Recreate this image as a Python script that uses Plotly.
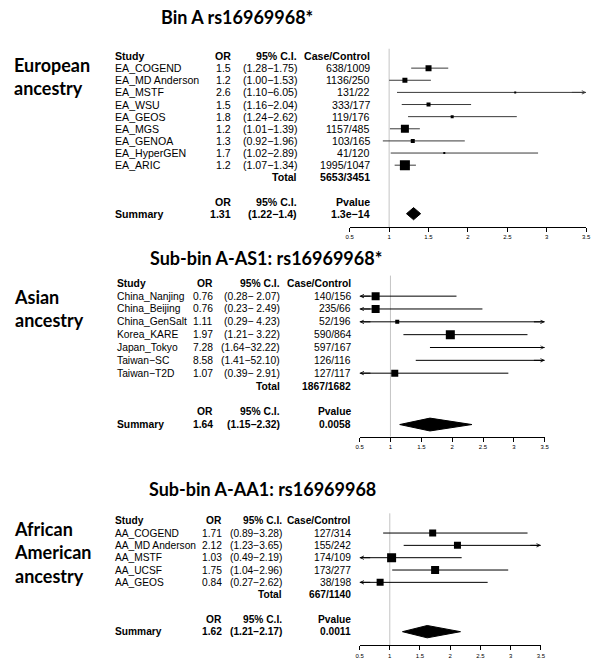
import plotly.graph_objects as go

W, H = 600, 667

# ---------------- data ----------------
ea_studies = ["EA_COGEND", "EA_MD Anderson", "EA_MSTF", "EA_WSU", "EA_GEOS",
              "EA_MGS", "EA_GENOA", "EA_HyperGEN", "EA_ARIC"]
ea_or = [1.5, 1.2, 2.6, 1.5, 1.8, 1.2, 1.3, 1.7, 1.2]
ea_lo = [1.28, 1.00, 1.10, 1.16, 1.24, 1.01, 0.92, 1.02, 1.07]
ea_hi = [1.75, 1.53, 6.05, 2.04, 2.62, 1.39, 1.96, 2.89, 1.34]
ea_cc = ["638/1009", "1136/250", "131/22", "333/177", "119/176",
         "1157/485", "103/165", "41/120", "1995/1047"]
ea_total = "5653/3451"
ea_summary = [1.31, 1.22, 1.4]
ea_pvalue = "1.3e\u221214"

as_studies = ["China_Nanjing", "China_Beijing", "China_GenSalt", "Korea_KARE",
              "Japan_Tokyo", "Taiwan\u2212SC", "Taiwan\u2212T2D"]
as_or = [0.76, 0.76, 1.11, 1.97, 7.28, 8.58, 1.07]
as_lo = [0.28, 0.23, 0.29, 1.21, 1.64, 1.41, 0.39]
as_hi = [2.07, 2.49, 4.23, 3.22, 32.22, 52.10, 2.91]
as_cc = ["140/156", "235/66", "52/196", "590/864", "597/167", "126/116", "127/117"]
as_total = "1867/1682"
as_summary = [1.64, 1.15, 2.32]
as_pvalue = "0.0058"

aa_studies = ["AA_COGEND", "AA_MD Anderson", "AA_MSTF", "AA_UCSF", "AA_GEOS"]
aa_or = [1.71, 2.12, 1.03, 1.75, 0.84]
aa_lo = [0.89, 1.23, 0.49, 1.04, 0.27]
aa_hi = [3.28, 3.65, 2.19, 2.96, 2.62]
aa_cc = ["127/314", "155/242", "174/109", "173/277", "38/198"]
aa_total = "667/1140"
aa_summary = [1.62, 1.21, 2.17]
aa_pvalue = "0.0011"

titles = ["Bin A rs16969968*", "Sub-bin A-AS1: rs16969968*", "Sub-bin A-AA1: rs16969968"]
ancestry = ["European<br>ancestry", "Asian<br>ancestry", "African<br>American<br>ancestry"]

tick_vals = [0.5, 1, 1.5, 2, 2.5, 3, 3.5]
tick_text = ["0.5", "1", "1.5", "2", "2.5", "3", "3.5"]
REF_OR = 1.0

# ---------------- styles ----------------
TABLE_FONT = "Liberation Sans, Arial, sans-serif"
HEAD_FONT = "Lato, Open Sans, sans-serif"

# box sizes (px)
ea_box = [6, 5, 2, 4, 3, 8, 4, 2, 10]
as_box = [8, 8, 4, 9, 6, 6, 7]
aa_box = [7, 7, 9, 8, 7]

panels = [
    dict(studies=ea_studies, orv=ea_or, lo=ea_lo, hi=ea_hi, cc=ea_cc, total=ea_total,
         summ=ea_summary, p=ea_pvalue, box=ea_box, orfmt="{:.1f}", cifmt="({:.2f}\u2212{:.2f})",
         header_px=56, row_px=12.13, axis_px=227, xpx=(351, 591), ts=10.6, ci_color="#3a3a3a",
         cols=(112, 231, 298, 373), title_xy=(237, 17), label_y=77),
    dict(studies=as_studies, orv=as_or, lo=as_lo, hi=as_hi, cc=as_cc, total=as_total,
         summ=as_summary, p=as_pvalue, box=as_box, orfmt="{:.2f}", cifmt="({:.2f}\u2212{:5.2f})",
         header_px=283.3, row_px=12.84, axis_px=436.7, xpx=(361, 549), ts=10.3, ci_color="black",
         cols=(114, 213, 281, 353), title_xy=(266, 258), label_y=308.5),
    dict(studies=aa_studies, orv=aa_or, lo=aa_lo, hi=aa_hi, cc=aa_cc, total=aa_total,
         summ=aa_summary, p=aa_pvalue, box=aa_box, orfmt="{:.2f}", cifmt="({:.2f}\u2212{:.2f})",
         header_px=520.7, row_px=12.33, axis_px=645.3, xpx=(361, 545), ts=10.2, ci_color="black",
         cols=(112, 222, 283, 353), title_xy=(262, 489), label_y=552),
]

XMIN, XMAX = 0.5, 3.5

fig = go.Figure()
annotations = []
shapes = []
layout = {}


def px_x(p):
    return p / W


def px_y(p):
    return 1 - p / H


def txt(s, x, y, yref, anchor="left", bold=False, size=10.5, family=TABLE_FONT):
    annotations.append(dict(
        text=f"<b>{s}</b>" if bold else s, x=px_x(x), y=y, xref="paper", yref=yref,
        xanchor=anchor, yanchor="middle", showarrow=False, borderpad=0,
        font=dict(family=family, size=size, color="black")))


for i, P in enumerate(panels):
    k = "" if i == 0 else str(i + 1)
    xa, ya = "x" + k, "y" + k
    n = len(P["studies"])
    ts = P["ts"]
    rows = list(range(1, n + 1))
    total_row = n + 1
    sh_row = n + 3
    s_row = n + 4
    top_px = P["header_px"] - 1.2 * P["row_px"]
    yr = [(P["axis_px"] - P["header_px"]) / P["row_px"], (top_px - P["header_px"]) / P["row_px"]]

    layout["xaxis" + k] = dict(
        domain=[px_x(P["xpx"][0]), px_x(P["xpx"][1])], range=[XMIN, XMAX], anchor=ya,
        showline=True, linecolor="black", linewidth=1, ticks="outside", ticklen=4,
        tickwidth=1, tickcolor="black", tickvals=tick_vals, ticktext=tick_text,
        tickfont=dict(family=TABLE_FONT, size=6, color="black"), showgrid=False,
        zeroline=False, fixedrange=True)
    layout["yaxis" + k] = dict(
        domain=[px_y(P["axis_px"]), px_y(top_px)], range=yr, anchor=xa, visible=False,
        showgrid=False, zeroline=False, fixedrange=True)

    # reference line
    shapes.append(dict(type="line", xref=xa, yref=ya, x0=REF_OR, x1=REF_OR,
                       y0=-0.6, y1=yr[0], line=dict(color="#c4c4c4", width=1), layer="below"))

    # CI lines with arrows where clipped
    lx, ly = [], []
    for r, lo, hi in zip(rows, P["lo"], P["hi"]):
        lx += [max(lo, XMIN), min(hi, XMAX), None]
        ly += [r, r, None]
        if lo < XMIN:
            annotations.append(dict(x=XMIN, y=r, ax=XMIN + 0.2, ay=r, xref=xa, yref=ya,
                                    axref=xa, ayref=ya, text="", showarrow=True,
                                    arrowhead=5, arrowsize=0.7, arrowwidth=1,
                                    arrowcolor=P["ci_color"], standoff=0))
        if hi > XMAX:
            annotations.append(dict(x=XMAX, y=r, ax=XMAX - 0.2, ay=r, xref=xa, yref=ya,
                                    axref=xa, ayref=ya, text="", showarrow=True,
                                    arrowhead=5, arrowsize=0.7, arrowwidth=1,
                                    arrowcolor=P["ci_color"], standoff=0))
    fig.add_trace(go.Scatter(x=lx, y=ly, xaxis=xa, yaxis=ya, mode="lines",
                             line=dict(color=P["ci_color"], width=1), hoverinfo="skip",
                             showlegend=False))
    # boxes
    fig.add_trace(go.Scatter(x=P["orv"], y=rows, xaxis=xa, yaxis=ya, mode="markers",
                             marker=dict(symbol="square", size=P["box"], color="black",
                                         opacity=1, line=dict(width=0)),
                             cliponaxis=True, showlegend=False))
    # summary diamond
    so, sl, sh = P["summ"]
    fig.add_trace(go.Scatter(x=[sl, so, sh, so, sl], y=[s_row, s_row - 0.5, s_row, s_row + 0.5, s_row],
                             xaxis=xa, yaxis=ya, mode="lines", fill="toself",
                             fillcolor="black", line=dict(color="black", width=1),
                             showlegend=False, hoverinfo="skip"))

    c_st, c_or, c_ci, c_cc = P["cols"]
    # header
    txt("Study", c_st, 0, ya, bold=True, size=ts)
    txt("OR", c_or, 0, ya, "right", bold=True, size=ts)
    txt("95% C.I.", c_ci, 0, ya, "right", bold=True, size=ts)
    txt("Case/Control", c_cc, 0, ya, "right", bold=True, size=ts)
    for r, s, o, lo, hi, cc in zip(rows, P["studies"], P["orv"], P["lo"], P["hi"], P["cc"]):
        txt(s, c_st, r, ya, size=ts)
        txt(P["orfmt"].format(o), c_or, r, ya, "right", size=ts)
        txt(P["cifmt"].format(lo, hi), c_ci, r, ya, "right", size=ts)
        txt(cc, c_cc, r, ya, "right", size=ts)
    txt("Total", c_ci, total_row, ya, "right", bold=True, size=ts)
    txt(P["total"], c_cc, total_row, ya, "right", bold=True, size=ts)
    txt("OR", c_or, sh_row, ya, "right", bold=True, size=ts)
    txt("95% C.I.", c_ci, sh_row, ya, "right", bold=True, size=ts)
    txt("Pvalue", c_cc, sh_row, ya, "right", bold=True, size=ts)
    txt("Summary", c_st, s_row, ya, bold=True, size=ts)
    txt(f"{so:g}", c_or, s_row, ya, "right", bold=True, size=ts)
    txt(f"({sl:g}\u2212{sh:g})", c_ci, s_row, ya, "right", bold=True, size=ts)
    txt(P["p"], c_cc, s_row, ya, "right", bold=True, size=ts)

    # title and ancestry label
    tx, ty = P["title_xy"]
    annotations.append(dict(text=f"<b>{titles[i]}</b>", x=px_x(tx), y=px_y(ty),
                            xref="paper", yref="paper", xanchor="center", yanchor="middle",
                            showarrow=False, font=dict(family=HEAD_FONT, size=18, color="black")))
    annotations.append(dict(text=f"<b>{ancestry[i]}</b>", x=px_x(8), y=px_y(P["label_y"]),
                            xref="paper", yref="paper", xanchor="left", yanchor="middle",
                            align="left", showarrow=False,
                            font=dict(family=HEAD_FONT, size=18, color="black")))

fig.update_layout(
    width=W, height=H, margin=dict(l=0, r=0, t=0, b=0),
    paper_bgcolor="white", plot_bgcolor="white", showlegend=False,
    annotations=annotations, shapes=shapes, **layout)

# remove the default 8px page margin so the figure sits at the window's top-left corner
fig.write_html("out.html", config={"displayModeBar": False},
               post_script="document.body.style.margin='0';")
